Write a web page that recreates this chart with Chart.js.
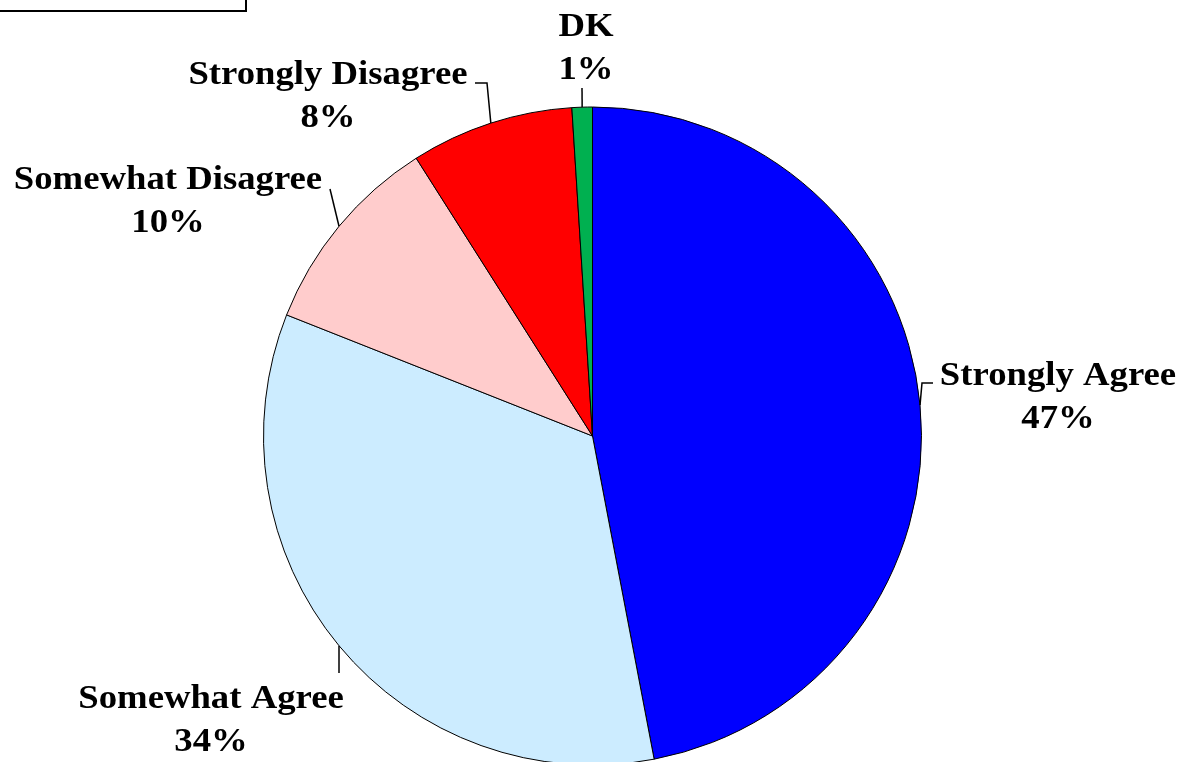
<!DOCTYPE html>
<html>
<head>
<meta charset="utf-8">
<script src="https://cdn.jsdelivr.net/npm/chart.js@4/dist/chart.umd.min.js"></script>
<style>
  html, body { margin: 0; padding: 0; background: #fff; overflow: hidden; }
  #wrap { position: relative; width: 1181px; height: 762px; }
  #box { position: absolute; left: 0; top: 0; width: 245px; height: 10px;
         border-right: 2px solid #000; border-bottom: 2px solid #000; }
  canvas { position: absolute; left: 0; top: 0; }
</style>
</head>
<body>
<div id="wrap">
  <canvas id="c" width="1181" height="762"></canvas>
  <div id="box"></div>
</div>
<script>
const categories = ["Strongly Agree", "Somewhat Agree", "Somewhat Disagree", "Strongly Disagree", "DK"];
const values = [47, 34, 10, 8, 1];
const valueLabels = ["47%", "34%", "10%", "8%", "1%"];
const colors = ["#0000FF", "#CCECFF", "#FFCCCC", "#FF0000", "#00B050"];

// label layout relative to pie centre: text centre/first baseline, elbow, optional horizontal end
const labelLayout = [
  { tx: 465.5, ty: -51,  ex: 329.5,  ey: -53,  hx: 340.5 },
  { tx: -381.5, ty: 272, ex: -253.5, ey: 237,  hx: null },
  { tx: -424.5, ty: -247, ex: -262.5, ey: -247, hx: null },
  { tx: -264.5, ty: -352, ex: -105.5, ey: -353, hx: -117.5 },
  { tx: -6.5,  ty: -400, ex: -10.5,  ey: -348, hx: null }
];

const labelPlugin = {
  id: 'pieLabels',
  afterDatasetsDraw(chart) {
    const ctx = chart.ctx;
    const meta = chart.getDatasetMeta(0);
    ctx.save();
    ctx.strokeStyle = '#000';
    ctx.lineWidth = 1.5;
    ctx.fillStyle = '#000';
    ctx.font = 'bold 34px "Liberation Serif", "Times New Roman", serif';
    ctx.textAlign = 'center';
    ctx.textBaseline = 'alphabetic';
    meta.data.forEach((arc, i) => {
      const cx = arc.x, cy = arc.y;
      const mid = (arc.startAngle + arc.endAngle) / 2;
      const r = arc.outerRadius;
      const px = cx + Math.cos(mid) * r;
      const py = cy + Math.sin(mid) * r;
      const L = labelLayout[i];
      ctx.beginPath();
      ctx.moveTo(px, py);
      ctx.lineTo(cx + L.ex, cy + L.ey);
      if (L.hx !== null) ctx.lineTo(cx + L.hx, cy + L.ey);
      ctx.stroke();
      const lines = [categories[i], valueLabels[i]];
      lines.forEach((t, k) => {
        ctx.save();
        ctx.translate(cx + L.tx, cy + L.ty + k * 43);
        ctx.scale(1.08, 1);
        ctx.fillText(t, 0, 0);
        ctx.restore();
      });
    });
    ctx.restore();
  }
};

new Chart(document.getElementById('c'), {
  type: 'pie',
  data: {
    labels: categories,
    datasets: [{
      data: values,
      backgroundColor: colors,
      borderColor: '#000',
      borderWidth: 1,
      hoverOffset: 0,
      clip: false
    }]
  },
  options: {
    responsive: false,
    animation: false,
    radius: 329,
    layout: { padding: { left: 4, right: 0, top: 110, bottom: 0 } },
    plugins: { legend: { display: false }, tooltip: { enabled: false } }
  },
  plugins: [labelPlugin]
});
</script>
</body>
</html>
